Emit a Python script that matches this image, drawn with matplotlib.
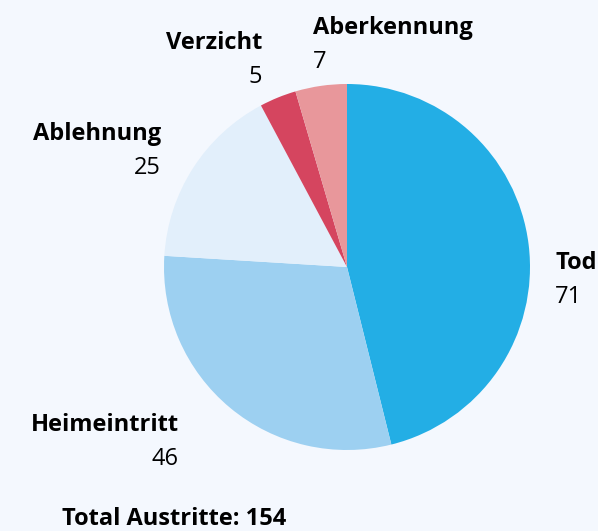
import matplotlib.pyplot as plt

labels = ["Tod", "Heimeintritt", "Ablehnung", "Verzicht", "Aberkennung"]
values = [71, 46, 25, 5, 7]
colors = ["#23aee5", "#9dd0f1", "#e2effb", "#d5455f", "#e8979b"]
total_text = "Total Austritte: " + str(sum(values))

plt.rcParams['font.family'] = ['Open Sans', 'DejaVu Sans']
bg = "#f4f8fe"
W, H = 598, 531
fig = plt.figure(figsize=(W / 100, H / 100), dpi=100, facecolor=bg)

cx, cy, r = 347, 267, 183
ax = fig.add_axes([(cx - r) / W, (H - cy - r) / H, 2 * r / W, 2 * r / H])
ax.pie(values, colors=colors, startangle=90, counterclock=False, radius=1,
       wedgeprops=dict(linewidth=0))
ax.set_xlim(-1, 1)
ax.set_ylim(-1, 1)
ax.set_aspect("equal")
ax.axis("off")

# label anchors in pixels: (x, y of name, alignment)
label_pos = {
    "Tod": (555, 263, "left"),
    "Heimeintritt": (179, 425, "right"),
    "Ablehnung": (161, 134, "right"),
    "Verzicht": (262, 43, "right"),
    "Aberkennung": (313, 28, "left"),
}

fs = 17
for lab, val in zip(labels, values):
    x, y, ha = label_pos[lab]
    fig.text(x / W, 1 - y / H, lab, ha=ha, va="center", fontsize=fs, fontweight="bold")
    fig.text(x / W, 1 - (y + 34) / H, str(val), ha=ha, va="center", fontsize=fs)

fig.text(62 / W, 1 - 519 / H, total_text, ha="left", va="center", fontsize=fs, fontweight="bold")

fig.savefig("out.png", dpi=100, facecolor=bg)
